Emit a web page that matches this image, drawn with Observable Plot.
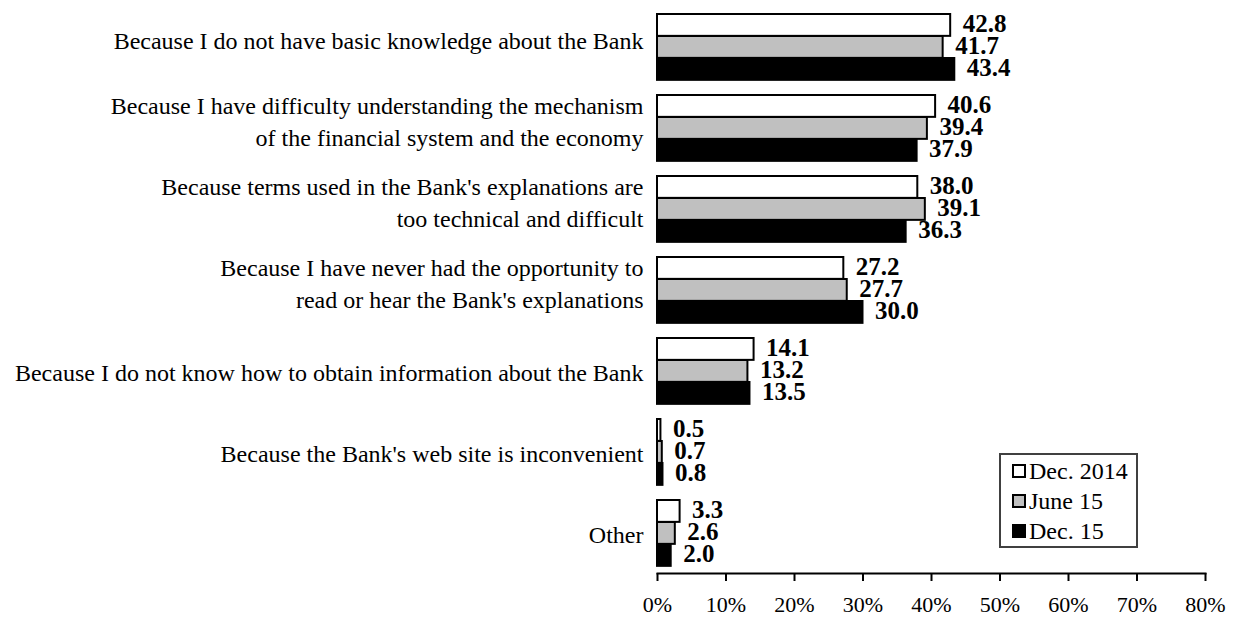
<!DOCTYPE html>
<html><head><meta charset="utf-8">
<script src="https://cdn.jsdelivr.net/npm/d3@7"></script>
<script src="https://cdn.jsdelivr.net/npm/@observablehq/plot@0.6"></script>
<style>
body{margin:0;background:#fff;}
#wrap{position:relative;width:1236px;height:622px;font-family:"Liberation Serif","Times New Roman",serif;}
#legend{position:absolute;left:999px;top:453px;width:135px;height:91px;border:2px solid #404040;background:#fff;}
.item{position:absolute;left:11px;height:30px;display:flex;align-items:center;font-size:24px;color:#000;white-space:nowrap;}
.sw{width:10px;height:10px;border:2px solid #000;margin-right:3px;}
</style></head><body><div id="wrap"></div>
<script>
const categories = [
  "Because I do not have basic knowledge about the Bank",
  "Because I have difficulty understanding the mechanism of the financial system and the economy",
  "Because terms used in the Bank's explanations are too technical and difficult",
  "Because I have never had the opportunity to read or hear the Bank's explanations",
  "Because I do not know how to obtain information about the Bank",
  "Because the Bank's web site is inconvenient",
  "Other"
];
const categoryLabels = [
  "Because I do not have basic knowledge about the Bank",
  "Because I have difficulty understanding the mechanism\nof the financial system and the economy",
  "Because terms used in the Bank's explanations are\ntoo technical and difficult",
  "Because I have never had the opportunity to\nread or hear the Bank's explanations",
  "Because I do not know how to obtain information about the Bank",
  "Because the Bank's web site is inconvenient",
  "Other"
];
const seriesNames = ["Dec. 2014", "June 15", "Dec. 15"];
const dec2014 = [42.8, 40.6, 38.0, 27.2, 14.1, 0.5, 3.3];
const june15  = [41.7, 39.4, 39.1, 27.7, 13.2, 0.7, 2.6];
const dec15   = [43.4, 37.9, 36.3, 30.0, 13.5, 0.8, 2.0];
const xTicks = [0, 10, 20, 30, 40, 50, 60, 70, 80];
const seriesFills = ["#ffffff", "#c0c0c0", "#000000"];

const W = 1236, H = 622, mTop = 5, mBottom = 49, mLeft = 657, mRight = 31;
const bw = (H - mTop - mBottom) / categories.length;
const barH = 22, topGap = 8;

const allValues = [dec2014, june15, dec15];
const marks = [];
allValues.forEach((vals, s) => {
  const rows = categories.map((c, i) => ({category: c, value: vals[i]}));
  const insetTop = topGap + s * barH;
  const insetBottom = bw - insetTop - barH;
  marks.push(Plot.barX(rows, {
    x: "value", y: "category", fill: seriesFills[s], stroke: "#000", strokeWidth: 2,
    insetTop, insetBottom
  }));
  const dy = insetTop + barH / 2 - bw / 2 - 1;
  marks.push(Plot.text(rows, {
    x: "value", y: "category", text: d => d.value.toFixed(1),
    dx: 12, dy, textAnchor: "start", fontWeight: "bold", fontSize: 25, fill: "#000"
  }));
});

const labelFmt = d => categoryLabels[categories.indexOf(d)];

const chart = Plot.plot({
  width: W, height: H,
  marginTop: mTop, marginBottom: mBottom, marginLeft: mLeft, marginRight: mRight,
  style: {fontFamily: "'Liberation Serif','Times New Roman',serif", background: "#fff", color: "#000"},
  x: {domain: [0, 80]},
  y: {domain: categories, padding: 0},
  marks: [
    ...marks,
    Plot.frame({anchor: "bottom", stroke: "#000", strokeWidth: 2}),
    Plot.axisX({ticks: xTicks, tickFormat: d => d + "%", tickSize: 8, tickPadding: 15, fontSize: 22, strokeWidth: 2, label: null}),
    Plot.axisY({ticks: categories.slice(0, 4), tickSize: 0, tickPadding: 14, fontSize: 24, lineHeight: 1.33, label: null,
      dy: -8, tickFormat: labelFmt}),
    Plot.axisY({ticks: categories.slice(4), tickSize: 0, tickPadding: 14, fontSize: 24, lineHeight: 1.33, label: null,
      tickFormat: labelFmt})
  ]
});
const wrap = document.getElementById("wrap");
wrap.appendChild(chart);

const legend = document.createElement("div");
legend.id = "legend";
seriesNames.forEach((name, s) => {
  const it = document.createElement("div");
  it.className = "item";
  it.style.top = (1 + s * 30) + "px";
  const sw = document.createElement("span");
  sw.className = "sw";
  sw.style.background = seriesFills[s];
  it.appendChild(sw);
  it.appendChild(document.createTextNode(name));
  legend.appendChild(it);
});
wrap.appendChild(legend);
</script>
</body></html>
